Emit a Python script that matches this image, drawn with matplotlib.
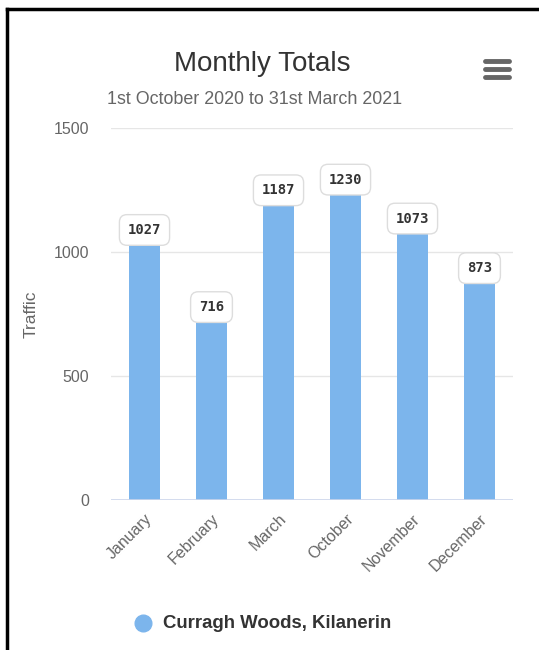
import numpy as np
import matplotlib
matplotlib.use('Agg')
import matplotlib.pyplot as plt

# values
months = ['January', 'February', 'March', 'October', 'November', 'December']
traffic = [1027, 716, 1187, 1230, 1073, 873]
y_ticks = [0, 500, 1000, 1500]
series_name = 'Curragh Woods, Kilanerin'

W, H = 539, 650
plt.rcParams['font.family'] = ['Liberation Sans', 'DejaVu Sans']

fig = plt.figure(figsize=(W / 100, H / 100), dpi=100)
fig.patch.set_facecolor('white')

# plot area in pixels: x 111..513, y 128..500
ax = fig.add_axes([111 / W, (H - 500) / H, 402 / W, 372 / H])
x = np.arange(len(months))
ax.bar(x, traffic, width=0.46, color='#7cb5ec', zorder=2)
ax.set_xlim(-0.5, len(months) - 0.5)
ax.set_ylim(0, 1500)
ax.set_yticks(y_ticks)
ax.set_yticklabels([str(t) for t in y_ticks], color='#666666', fontsize=11.5)
ax.set_xticks(x)
ax.set_xticklabels(months, rotation=45, ha='right', rotation_mode='anchor',
                   color='#666666', fontsize=11.5)
ax.tick_params(axis='both', length=0)
ax.tick_params(axis='y', pad=16)
ax.tick_params(axis='x', pad=8)
for sp in ax.spines.values():
    sp.set_visible(False)
for t in y_ticks[1:]:
    ax.axhline(t, color='#e6e6e6', lw=1, zorder=1)
ax.axhline(0, color='#ccd6eb', lw=1.2, zorder=3)
ax.set_ylabel('Traffic', color='#666666', fontsize=12.5)
ax.yaxis.set_label_coords((39 - 111) / 402, 0.5)

# data labels in rounded boxes above the bars
for xi, v in zip(x, traffic):
    ax.annotate(str(v), (xi, v), xytext=(0, 6), textcoords='offset points',
                ha='center', va='bottom', fontsize=10, fontweight='bold',
                family='DejaVu Sans Mono', color='#333333', zorder=4,
                bbox=dict(boxstyle='round,pad=0.6,rounding_size=0.55',
                          fc='white', ec='#dddddd', lw=1))

# title and subtitle
fig.text(262 / W, 1 - 64 / H, 'Monthly Totals', ha='center', va='center',
         fontsize=20, color='#333333')
fig.text(255 / W, 1 - 100 / H, '1st October 2020 to 31st March 2021',
         ha='center', va='center', fontsize=12.9, color='#666666')

# hamburger menu icon
for yy in (61, 69, 77):
    fig.add_artist(plt.Line2D([485 / W, 509 / W], [1 - yy / H, 1 - yy / H],
                              color='#666666', lw=3.5, solid_capstyle='round'))

# legend
fig.add_artist(plt.Line2D([143 / W], [1 - 623 / H], marker='o', ms=12,
                          color='#7cb5ec', ls='none'))
fig.text(163 / W, 1 - 623 / H, series_name, ha='left', va='center',
         fontsize=13.4, fontweight='bold', color='#333333')

# black frame on the left and top edges
fig.add_artist(plt.Line2D([6.5 / W, 6.5 / W], [0, 1 - 8.5 / H], color='black', lw=2.5))
fig.add_artist(plt.Line2D([6.5 / W, 1], [1 - 8.5 / H, 1 - 8.5 / H], color='black', lw=2.5))

fig.savefig('out.png', dpi=100, facecolor='white')
